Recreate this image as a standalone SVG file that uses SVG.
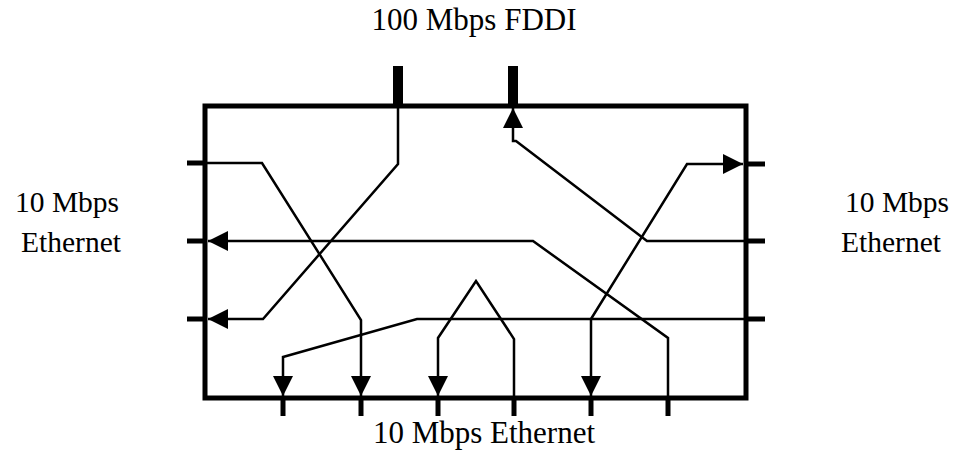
<svg xmlns="http://www.w3.org/2000/svg" width="960" height="451" viewBox="0 0 960 451">
<style>
.lbl{font-family:"Liberation Serif","Times New Roman",serif;fill:#000}
.box{fill:none;stroke:#000;stroke-width:5}
.port{stroke:#000;stroke-width:5;fill:none}
.fddi{stroke:#000;stroke-width:10;fill:none}
.conn{fill:none;stroke:#000;stroke-width:2.5;stroke-linejoin:miter}
</style>
<defs>
<marker id="arr" markerUnits="userSpaceOnUse" markerWidth="20" markerHeight="20" refX="20" refY="10" orient="auto" viewBox="0 0 20 20">
<path d="M0,0 L20,10 L0,20 Z" fill="#000"/>
</marker>
</defs>
<rect width="960" height="451" fill="#fff"/>
<g id="switch">
<rect class="box" x="205" y="106" width="541" height="292"/>
</g>
<g id="fddi-ports">
<line class="fddi" x1="398" y1="66" x2="398" y2="106"/>
<line class="fddi" x1="513" y1="66" x2="513" y2="106"/>
</g>
<g id="left-ports">
<line class="port" x1="187" y1="163" x2="205" y2="163"/>
<line class="port" x1="187" y1="241" x2="205" y2="241"/>
<line class="port" x1="187" y1="319" x2="205" y2="319"/>
</g>
<g id="right-ports">
<line class="port" x1="746" y1="164" x2="765" y2="164"/>
<line class="port" x1="746" y1="241" x2="765" y2="241"/>
<line class="port" x1="746" y1="319" x2="765" y2="319"/>
</g>
<g id="bottom-ports">
<line class="port" x1="283" y1="398" x2="283" y2="416"/>
<line class="port" x1="361" y1="398" x2="361" y2="416"/>
<line class="port" x1="438" y1="398" x2="438" y2="416"/>
<line class="port" x1="514" y1="398" x2="514" y2="416"/>
<line class="port" x1="591" y1="398" x2="591" y2="416"/>
<line class="port" x1="668" y1="398" x2="668" y2="416"/>
</g>
<g id="connectors">
<path class="conn" d="M205,163 H262 L361,320 V396" marker-end="url(#arr)"/>
<path class="conn" d="M398,106 V164 L263,319 H208" marker-end="url(#arr)"/>
<path class="conn" d="M668,398 V338 L533,241 H208" marker-end="url(#arr)"/>
<path class="conn" d="M745,241 H647 L516,141 H513 V108" marker-end="url(#arr)"/>
<path class="conn" d="M745,319 H417 L283,357 V396" marker-end="url(#arr)"/>
<path class="conn" d="M591,319 V396" marker-end="url(#arr)"/>
<path class="conn" d="M591,319 L687,164 H743" marker-end="url(#arr)"/>
<path class="conn" d="M514,398 V339 L476,281 L438,338 V396" marker-end="url(#arr)"/>
</g>
<g id="labels">
<text class="lbl" x="474" y="30" font-size="31" text-anchor="middle">100 Mbps FDDI</text>
<text class="lbl" x="15" y="212" font-size="29.5">10 Mbps</text>
<text class="lbl" x="21" y="252" font-size="29.5">Ethernet</text>
<text class="lbl" x="845" y="212" font-size="29.5">10 Mbps</text>
<text class="lbl" x="841" y="252" font-size="29.5">Ethernet</text>
<text class="lbl" x="484" y="443" font-size="31" text-anchor="middle">10 Mbps Ethernet</text>
</g>
</svg>
